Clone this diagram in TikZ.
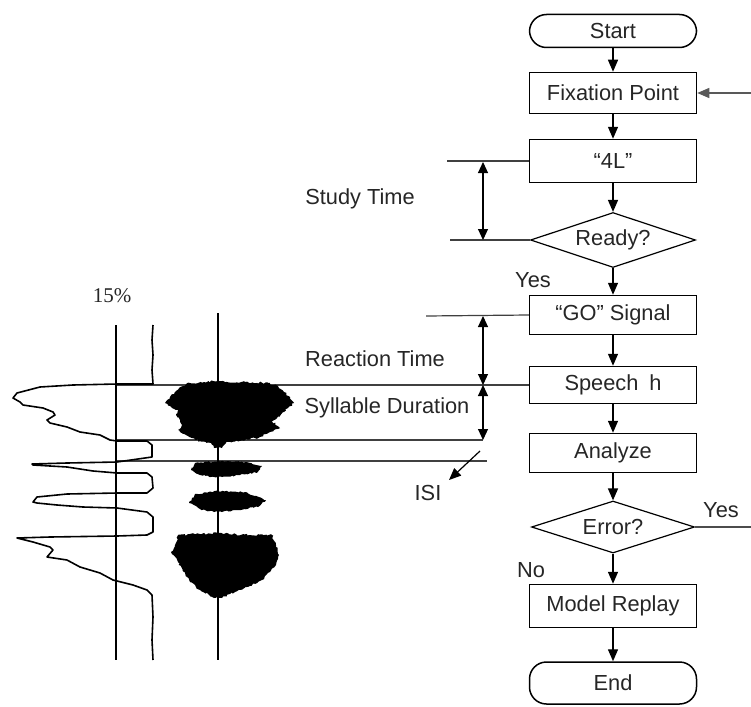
\documentclass[tikz,border=0pt]{standalone}
\usepackage{fontspec}
\setmainfont{Liberation Sans}
\newfontfamily\serifnum{Liberation Serif}
\usetikzlibrary{shapes.geometric,arrows.meta,decorations.pathmorphing}
\begin{document}
\begin{tikzpicture}[x=1pt,y=-1pt,
  font=\fontsize{21.8}{25}\selectfont,
  box/.style={draw,line width=1.5pt,rectangle,inner sep=0pt,minimum width=167pt,text=black!85},
  term/.style={box,rounded corners=17pt},
  dec/.style={draw,line width=1.2pt,diamond,aspect=3,inner sep=0pt,text=black!85},
  flow/.style={line width=1.4pt,-{Triangle[length=12pt,width=10pt]}},
  both/.style={line width=1.1pt,{Triangle[length=11pt,width=10pt]}-{Triangle[length=11pt,width=10pt]}},
  tline/.style={line width=1.2pt,draw=black!75},
  lbl/.style={text=black!85,inner sep=0pt},
  trace/.style={line width=1.6pt,line join=round}]
\useasboundingbox (0,0) rectangle (751,706);
% flowchart nodes
\node[term,minimum height=33pt] (start) at (613,31) {Start};
\node[box,minimum height=41pt] (fix) at (613,93) {Fixation Point};
\node[box,minimum height=43pt] (fourL) at (613,161) {“4L”};
\node[dec,minimum width=165pt,minimum height=55pt] (ready) at (613,240) {Ready?};
\node[box,minimum height=39pt] (go) at (613,315) {“GO” Signal};
\node[box,minimum height=37pt] (speech) at (613,385) {Speech\hspace{0.5em}h};
\node[box,minimum height=39pt] (analyze) at (613,453) {Analyze};
\node[dec,minimum width=163pt,minimum height=52pt] (error) at (613,527) {Error?};
\node[box,minimum height=43pt] (replay) at (613,606) {Model Replay};
\node[term,minimum height=42pt] (endn) at (613,683) {End};
% labels
\node[lbl] (yes1) at (533,280) {Yes};
\node[lbl] (yes2) at (721,510) {Yes};
\node[lbl] (no) at (531,570) {No};
\node[lbl] (study) at (360,199) {Study Time};
\node[lbl] (react) at (375,359) {Reaction Time};
\node[lbl] (syll) at (387,408) {Syllable Duration};
\node[lbl] (isi) at (428,493) {ISI};
\node[lbl,font=\serifnum\fontsize{21}{24}\selectfont] (pct) at (112,296) {15\%};
% flow connectors
\draw[flow] (start) -- (fix);
\draw[flow] (fix) -- (fourL);
\draw[flow] (fourL) -- (ready);
\draw[flow] (ready) -- (go);
\draw[flow] (go) -- (speech);
\draw[flow] (speech) -- (analyze);
\draw[flow] (analyze) -- (error);
\draw[flow] (error) -- (replay);
\draw[flow] (replay) -- (endn);
\coordinate (back) at (751,93);
\coordinate (errout) at (751,527);
\draw[flow,draw=black!65,line width=1.2pt] (back) -- (fix);
\draw[line width=1.2pt,draw=black!70] (error.east) -- (errout);
% timing lines
\coordinate (t1) at (447,161);
\coordinate (t2) at (450,240);
\coordinate (t3) at (426,316);
\coordinate (t4) at (117,385);
\coordinate (t5a) at (117,440); \coordinate (t5b) at (483,440);
\coordinate (t6a) at (117,461); \coordinate (t6b) at (487,461);
\draw[tline] (fourL.west) -- (t1);
\draw[tline] (ready.west) -- (t2);
\draw[tline] (go.west) -- (t3);
\draw[tline] (speech.west) -- (t4);
\draw[tline] (t5a) -- (t5b);
\draw[tline] (t6a) -- (t6b);
\coordinate (a1) at (483,162); \coordinate (a2) at (483,240);
\coordinate (a3) at (483,316); \coordinate (a4) at (483,385);
\draw[both] (a1) -- (a2);
\draw[both] (a3) -- (a4);
\draw[both] (a4) -- (t5b);
\coordinate (i1) at (480,451); \coordinate (i2) at (449,480);
\draw[line width=1.2pt,-{Triangle[length=12pt,width=10pt]}] (i1) -- (i2);
% waveform panel
\draw[line width=1.5pt] (116,325) -- (116,660);
\fill[decorate,decoration={random steps,segment length=2pt,amplitude=1.1pt}]
 (213,381) -- (245,382) -- (268,383) -- (278,386) -- (284,392) -- (290,397) -- (294,403) -- (288,408) -- (284,412) -- (277,418) -- (272,421) -- (280,428) -- (270,432) -- (260,437) -- (245,440) -- (226,443) -- (222,448) -- (214,448) -- (211,443) -- (195,440) -- (188,436) -- (178,430) -- (182,425) -- (180,420) -- (176,414) -- (178,410) -- (170,406) -- (165,403) -- (170,397) -- (176,391) -- (183,386) -- (190,383) -- cycle;
\fill[decorate,decoration={random steps,segment length=2pt,amplitude=0.8pt}]
 (218,461) -- (245,462) -- (262,466) -- (258,472) -- (240,475) -- (222,477) -- (214,477) -- (200,475) -- (191,470) -- (195,463) -- cycle;
\fill[decorate,decoration={random steps,segment length=2pt,amplitude=0.8pt}]
 (218,491) -- (245,492) -- (266,500) -- (258,507) -- (235,510) -- (222,512) -- (214,512) -- (200,509) -- (189,503) -- (195,494) -- cycle;
\fill[decorate,decoration={random steps,segment length=2pt,amplitude=1.1pt}]
 (218,533) -- (250,535) -- (272,535) -- (276,545) -- (279,555) -- (276,565) -- (270,572) -- (262,580) -- (250,586) -- (235,592) -- (222,598) -- (214,598) -- (200,590) -- (190,582) -- (184,572) -- (178,562) -- (171,552) -- (175,545) -- (178,535) -- (200,534) -- cycle;
\draw[line width=2.8pt] (218,313) -- (218,660);
\draw[trace] (153,325) -- (152,340) -- (153,355) -- (152,370) -- (153,384) -- (117,384) -- (73,385) -- (40,387) -- (17,393) -- (13,398) -- (20,402) -- (23,405) -- (43,408) -- (53,412) -- (55,415) -- (47,420) -- (50,423) -- (67,427) -- (80,432) -- (100,435) -- (110,440) -- (117,441) -- (147,441) -- (152,445) -- (152,457) -- (117,462) -- (67,463) -- (32,464) -- (33,465) -- (67,467) -- (93,471) -- (117,473) -- (147,473) -- (152,477) -- (153,488) -- (147,493) -- (117,493) -- (67,494) -- (37,497) -- (33,502) -- (37,503) -- (57,505) -- (83,507) -- (117,508) -- (147,512) -- (153,517) -- (153,532) -- (147,535) -- (117,536) -- (50,537) -- (17,538) -- (25,540) -- (33,542) -- (50,547) -- (53,550) -- (47,557) -- (67,560) -- (80,567) -- (100,573) -- (113,580) -- (133,585) -- (147,590) -- (152,595) -- (153,617) -- (152,640) -- (153,660);
\end{tikzpicture}
\end{document}
